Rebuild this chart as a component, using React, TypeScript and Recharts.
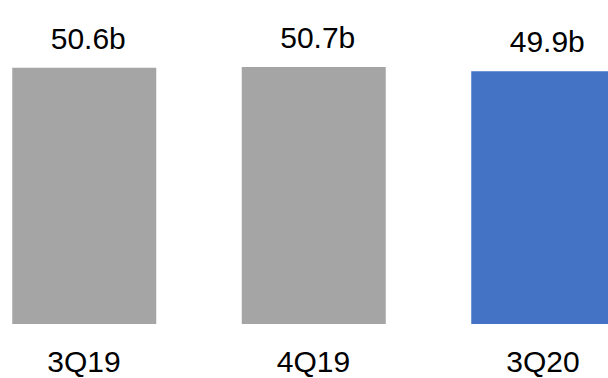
import { BarChart, Bar, XAxis, YAxis, Cell, LabelList } from "recharts";

// Quarterly totals, in billions
const quarters = ["3Q19", "4Q19", "3Q20"];
const totals = [50.6, 50.7, 49.9];
const barColors = ["#A5A5A5", "#A5A5A5", "#4472C4"];

const data = quarters.map((quarter, i) => ({ quarter, total: totals[i] }));

const FONT = "'Liberation Sans', Arial, sans-serif";

// value label sits above each bar, e.g. "50.6b"
const renderValue = (props: any) => {
  const { x, y, width, value } = props;
  return (
    <text
      x={Number(x) + Number(width) / 2 + 4}
      y={Number(y) - 19}
      textAnchor="middle"
      fontSize={30}
      fontFamily={FONT}
      fill="#000"
    >
      {`${value}b`}
    </text>
  );
};

export default function App() {
  return (
    <div style={{ position: "absolute", left: 0, top: 0, width: 608, height: 378, overflow: "hidden", background: "#fff" }}>
      <BarChart
        width={608}
        height={378}
        data={data}
        margin={{ top: 20, right: -49.75, bottom: 0, left: -30.75 }}
      >
        <XAxis
          dataKey="quarter"
          axisLine={false}
          tickLine={false}
          tickSize={0}
          tickMargin={27}
          height={54}
          interval={0}
          tick={{ fontSize: 30, fontFamily: FONT, fill: "#000" }}
        />
        <YAxis hide domain={[0, 60]} />
        <Bar dataKey="total" barSize={144} isAnimationActive={false}>
          {data.map((d, i) => (
            <Cell key={d.quarter} fill={barColors[i]} />
          ))}
          <LabelList dataKey="total" content={renderValue} />
        </Bar>
      </BarChart>
    </div>
  );
}
